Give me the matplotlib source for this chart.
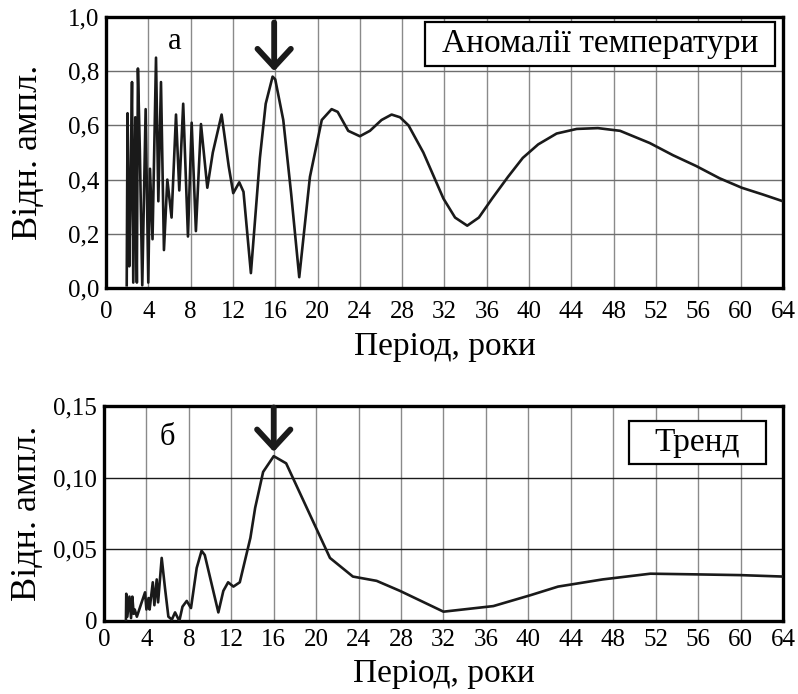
import matplotlib
matplotlib.use("Agg")
import matplotlib.pyplot as plt
from matplotlib.patches import Rectangle

plt.rcParams['font.family'] = ['Liberation Serif', 'DejaVu Serif']

# Panel a: temperature anomalies spectrum
period_a = [1.96, 2.04, 2.2, 2.33, 2.46, 2.58, 2.77, 2.92, 3.02, 3.2, 3.43, 3.75, 4.0,
            4.16, 4.4, 4.73, 4.95, 5.2, 5.48, 5.8, 6.2, 6.62, 6.93, 7.3, 7.75, 8.1,
            8.5, 8.98, 9.58, 10.1, 10.93, 11.6, 12.03, 12.6, 13.0, 13.7, 14.55, 15.1,
            15.75, 16.0, 16.76, 17.5, 18.27, 19.28, 20.4, 21.33, 21.9, 22.9, 24.0,
            24.95, 26.05, 27.0, 27.8, 28.6, 30.0, 31.9, 33.0, 34.15, 35.25, 36.5,
            38.0, 39.4, 40.86, 42.6, 44.5, 46.5, 48.6, 51.4, 53.6, 55.8, 58.0, 60.1,
            62.1, 64.0]
ampl_a = [0.01, 0.645, 0.08, 0.39, 0.76, 0.02, 0.63, 0.02, 0.81, 0.51, 0.01, 0.66, 0.02,
          0.44, 0.18, 0.85, 0.32, 0.76, 0.14, 0.40, 0.26, 0.64, 0.36, 0.68, 0.19, 0.61,
          0.21, 0.605, 0.37, 0.50, 0.64, 0.45, 0.35, 0.39, 0.355, 0.055, 0.48, 0.68,
          0.78, 0.77, 0.62, 0.35, 0.04, 0.41, 0.62, 0.66, 0.65, 0.58, 0.56,
          0.58, 0.62, 0.64, 0.63, 0.60, 0.50, 0.33, 0.26, 0.23, 0.26, 0.33,
          0.41, 0.48, 0.53, 0.57, 0.587, 0.59, 0.58, 0.535, 0.49, 0.45, 0.405, 0.37,
          0.345, 0.32]

# Panel b: trend spectrum
period_b = [2.07, 2.1, 2.2, 2.4, 2.55, 2.67, 2.8, 2.9, 3.1, 3.55, 3.87, 4.0, 4.2, 4.3,
            4.6, 4.75, 4.97, 5.1, 5.44, 5.75, 6.07, 6.4, 6.7, 7.1, 7.4, 7.8, 8.2, 8.74,
            9.2, 9.5, 10.78, 11.25, 11.7, 12.2, 12.8, 13.8, 14.25, 15.0, 16.0, 17.17,
            21.3, 23.46, 25.7, 27.9, 32.0, 36.7, 40.2, 42.8, 47.0, 51.5, 56.0, 60.0, 64.0]
ampl_b = [0.0, 0.019, 0.003, 0.017, 0.002, 0.017, 0.005, 0.008, 0.003, 0.013, 0.02, 0.008,
          0.016, 0.008, 0.027, 0.011, 0.029, 0.013, 0.044, 0.023, 0.003, 0.001, 0.006,
          0.0, 0.010, 0.014, 0.009, 0.037, 0.049, 0.046, 0.006, 0.021, 0.027, 0.024,
          0.027, 0.058, 0.079, 0.104, 0.115, 0.110, 0.044, 0.031, 0.028, 0.021, 0.0065,
          0.0104, 0.018, 0.024, 0.029, 0.033, 0.0325, 0.032, 0.031]

xticks = list(range(0, 65, 4))
yticks_a = [0.0, 0.2, 0.4, 0.6, 0.8, 1.0]
yticklabels_a = ['0,0', '0,2', '0,4', '0,6', '0,8', '1,0']
yticks_b = [0.0, 0.05, 0.10, 0.15]
yticklabels_b = ['0', '0,05', '0,10', '0,15']

fig = plt.figure(figsize=(7.98, 6.94), dpi=100)
ax1 = fig.add_axes([0.1328, 0.585, 0.8484, 0.3905])
ax2 = fig.add_axes([0.1303, 0.1052, 0.8509, 0.3098])


def style(ax, yticks, ylabels, ylim, hcolor, ylab_x, xlab_y, xpad):
    ax.set_xlim(0, 64)
    ax.set_ylim(*ylim)
    ax.set_xticks(xticks)
    ax.set_xticklabels([str(t) for t in xticks], fontsize=18)
    ax.set_yticks(yticks)
    ax.set_yticklabels(ylabels, fontsize=18)
    ax.tick_params(length=0, pad=5)
    ax.tick_params(axis='x', pad=xpad)
    ax.xaxis.grid(True, color='#8a8a8a', lw=1.0)
    ax.yaxis.grid(True, color=hcolor, lw=1.0)
    ax.set_axisbelow(True)
    for s in ax.spines.values():
        s.set_linewidth(2.4)
    xl = ax.set_xlabel('Період, роки', fontsize=24)
    yl = ax.set_ylabel('Відн. ампл.', fontsize=26)
    ax.xaxis.set_label_coords(0.5, xlab_y)
    ax.yaxis.set_label_coords(ylab_x, 0.5)
    xl.set_va('center')
    yl.set_va('center')


def boxed(ax, text, x0, y0, x1, y1):
    ax.add_patch(Rectangle((x0, y0), x1 - x0, y1 - y0, transform=ax.transAxes,
                           fc='white', ec='black', lw=1.6, zorder=5, clip_on=False))
    ax.text((x0 + x1) / 2, (y0 + y1) / 2, text, transform=ax.transAxes, fontsize=24,
            ha='center', va='center', zorder=6)


ax1.plot(period_a, ampl_a, color='#1a1a1a', lw=1.9, zorder=3)
style(ax1, yticks_a, yticklabels_a, (0, 1.0), '#6e6e6e', -0.115, -0.215, 9)
ax1.text(6.5, 0.91, 'а', fontsize=22, ha='center', va='center')
boxed(ax1, 'Аномалії температури', 0.471, 0.819, 0.988, 0.982)
ax1.annotate('', xy=(15.9, 0.80), xytext=(15.9, 0.98),
             arrowprops=dict(arrowstyle='->,head_width=0.6,head_length=0.65',
                             lw=4.2, color='#1a1a1a', mutation_scale=20,
                             shrinkA=0, shrinkB=0), zorder=6)

ax2.plot(period_b, ampl_b, color='#1a1a1a', lw=1.9, zorder=3)
style(ax2, yticks_b, yticklabels_b, (0, 0.15), '#1a1a1a', -0.112, -0.245, 6)
ax2.text(6.0, 0.128, 'б', fontsize=22, ha='center', va='center')
boxed(ax2, 'Тренд', 0.773, 0.729, 0.975, 0.930)
ax2.annotate('', xy=(16.0, 0.118), xytext=(16.0, 0.149),
             arrowprops=dict(arrowstyle='->,head_width=0.6,head_length=0.65',
                             lw=4.2, color='#1a1a1a', mutation_scale=20,
                             shrinkA=0, shrinkB=0), zorder=6)

fig.savefig('out.png', dpi=100)
